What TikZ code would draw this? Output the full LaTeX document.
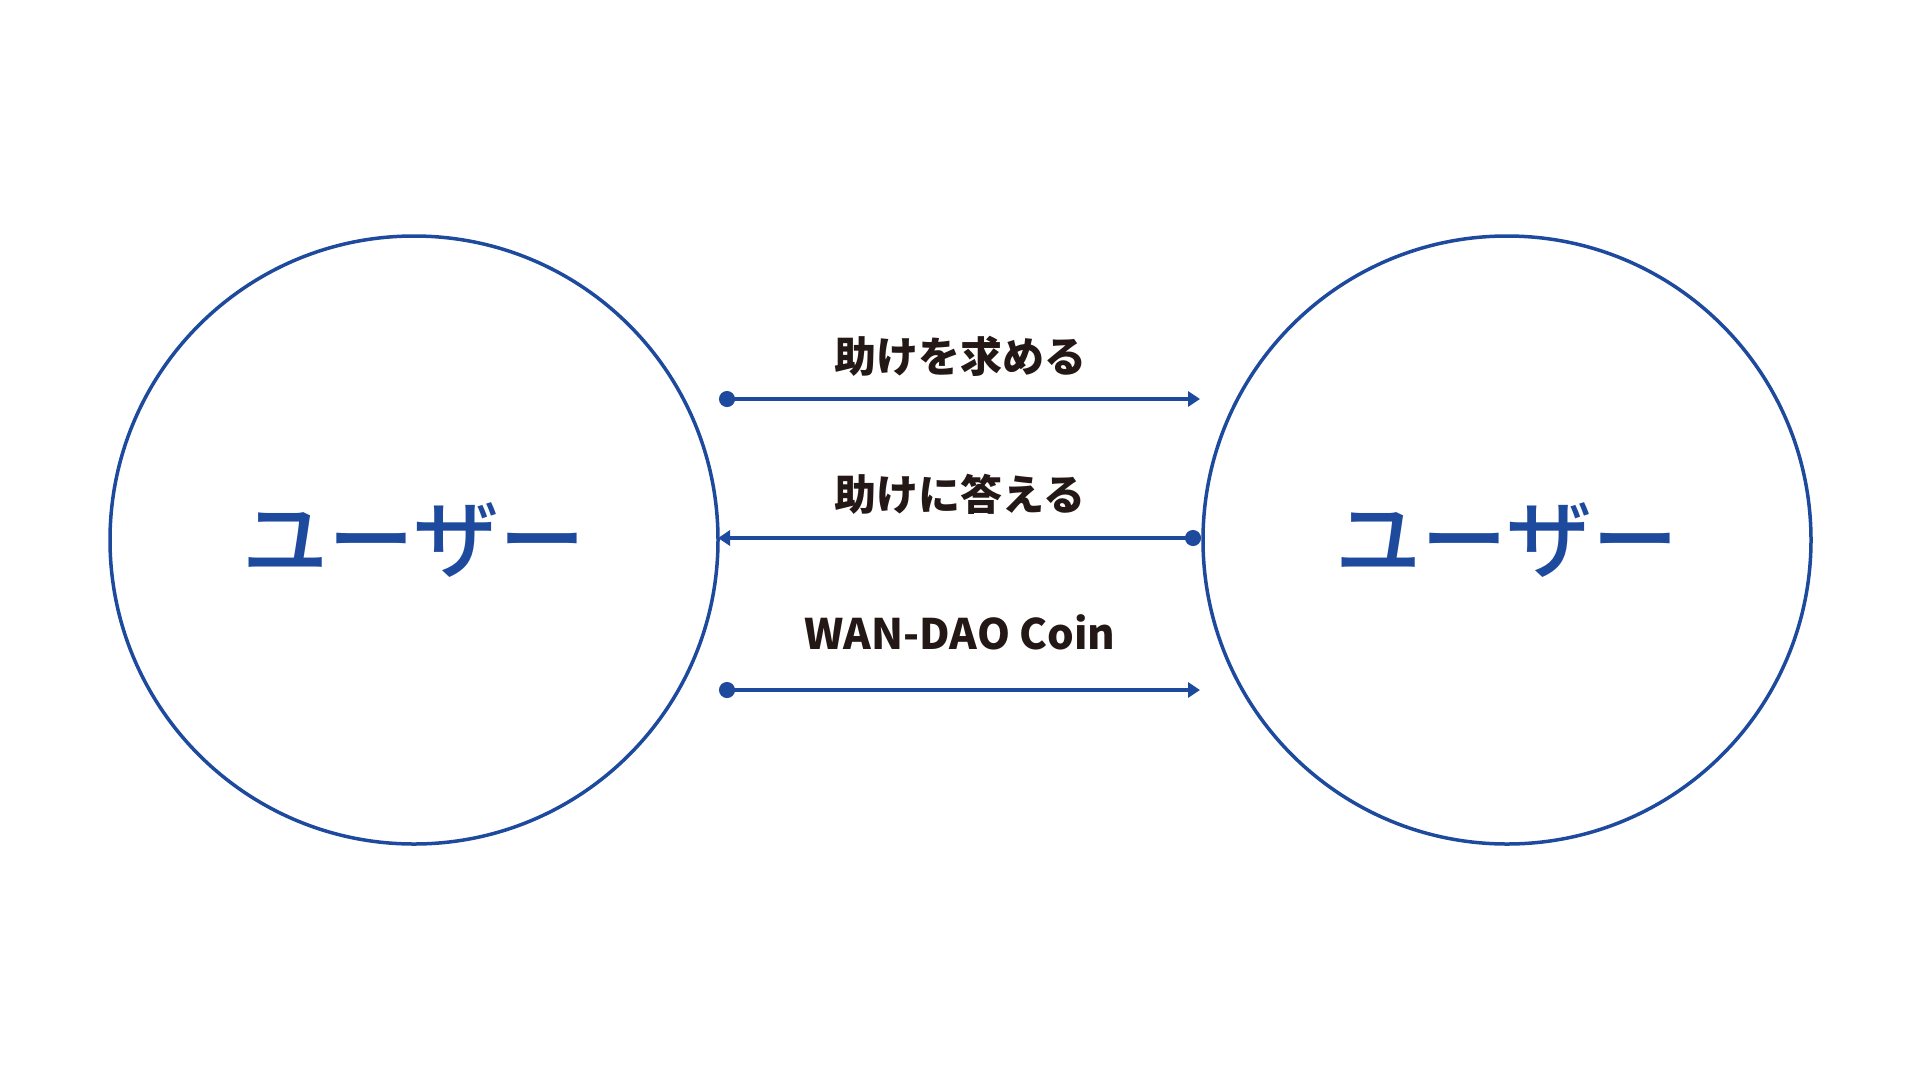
\documentclass[tikz,border=0pt]{standalone}
\usepackage{fontspec}
\setmainfont{Noto Sans CJK JP}
\newfontfamily\jpmed{Noto Sans CJK JP Medium}
\newfontfamily\jpblack{Noto Sans CJK JP Black}
\usetikzlibrary{arrows.meta}
\definecolor{ublue}{HTML}{1E4A9E}
\definecolor{ink}{HTML}{231815}
\tikzset{
  user/.style={circle, draw=ublue, line width=3.5pt, minimum size=608pt, inner sep=0pt,
    text=ublue, font=\jpmed\fontsize{86pt}{92pt}\selectfont},
  flow/.style={draw=ublue, line width=4.5pt},
  dotstart/.style={{Circle[length=16pt,width=16pt]}-{Triangle[length=12pt,width=15pt]}},
  dotend/.style={{Triangle[length=12pt,width=15pt]}-{Circle[length=16pt,width=16pt]}},
  lbl/.style={text=ink, font=\jpblack\fontsize{42pt}{48pt}\selectfont}
}
\begin{document}
\begin{tikzpicture}[x=1pt,y=-1pt]
\useasboundingbox (0,0) rectangle (1920,1080);
\node[user] (L) at (414,540) {ユーザー};
\node[user] (R) at (1507,540) {ユーザー};
\coordinate (a1) at (719,399);
\coordinate (b1) at (1200,399);
\coordinate (a2) at (718,538);
\coordinate (b2) at (1201,538);
\coordinate (a3) at (719,690);
\coordinate (b3) at (1200,690);
\draw[flow, dotstart] (a1) -- (b1);
\draw[flow, dotend] (a2) -- (b2);
\draw[flow, dotstart] (a3) -- (b3);
\node[lbl] (t1) at (960,356) {助けを求める};
\node[lbl] (t2) at (960,494) {助けに答える};
\node[lbl] (t3) at (960,632) {WAN-DAO Coin};
\end{tikzpicture}
\end{document}
